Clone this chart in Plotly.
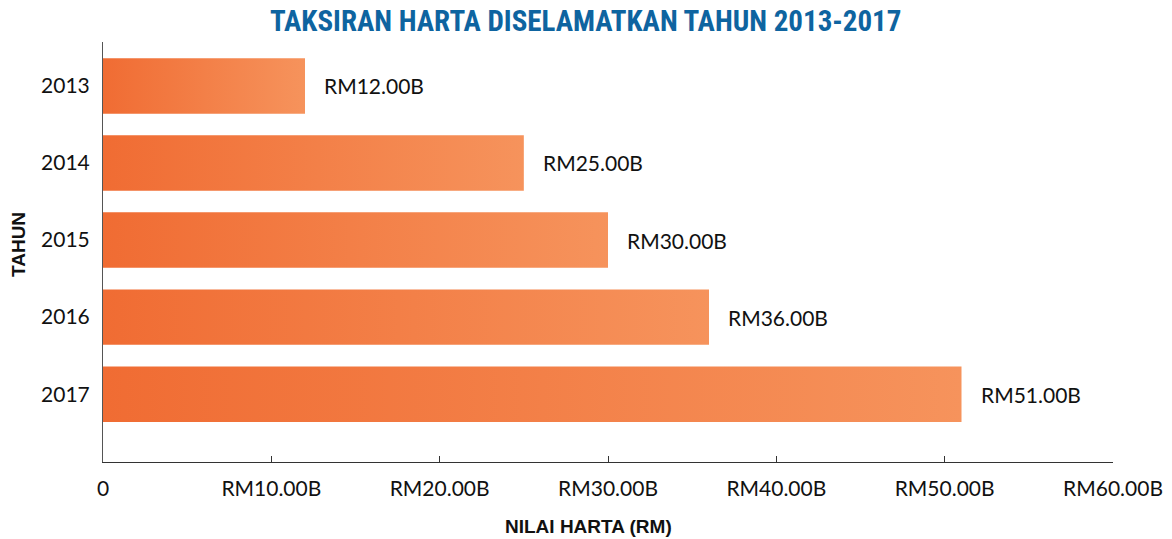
import plotly.graph_objects as go

years = ["2013", "2014", "2015", "2016", "2017"]
values = [12, 25, 30, 36, 51]
value_labels = ["RM12.00B", "RM25.00B", "RM30.00B", "RM36.00B", "RM51.00B"]
x_tickvals = [0, 10, 20, 30, 40, 50, 60]
x_ticktext = ["0", "RM10.00B", "RM20.00B", "RM30.00B", "RM40.00B", "RM50.00B", "RM60.00B"]

BAR_W = 0.72
fig = go.Figure()
for i, (yr, v) in enumerate(zip(years, values)):
    y0, y1 = i - BAR_W / 2, i + BAR_W / 2
    fig.add_trace(go.Scatter(
        x=[0, v, v, 0, 0], y=[y0, y0, y1, y1, y0],
        mode="lines", line=dict(width=0), fill="toself",
        fillgradient=dict(type="horizontal",
                          colorscale=[[0, "#F06C33"], [1, "#F6935C"]]),
        name=yr, showlegend=False, hoverinfo="skip"))

for i, (v, lab) in enumerate(zip(values, value_labels)):
    fig.add_annotation(x=v, y=i, text=lab, showarrow=False, xanchor="left",
                       xshift=17, font=dict(size=21, color="#111111"))

fig.add_annotation(text="<b>TAKSIRAN HARTA DISELAMATKAN TAHUN 2013-2017</b>",
                   xref="paper", yref="paper", x=0.478, y=1.0, yshift=21,
                   xanchor="center", yanchor="middle", showarrow=False,
                   font=dict(family="Liberation Sans Narrow, Roboto Condensed, Arial Narrow, sans-serif",
                             size=29, color="#0E64A0"))
fig.add_annotation(text="<b>NILAI HARTA (RM)</b>", xref="paper", yref="paper",
                   x=0.481, y=0, yshift=-64, xanchor="center", yanchor="middle",
                   showarrow=False,
                   font=dict(family="Liberation Sans Narrow, sans-serif", size=19, color="#111111"))
fig.add_annotation(text="<b>TAHUN</b>", xref="paper", yref="paper",
                   x=0, xshift=-85, y=0.5, yshift=7, textangle=-90,
                   xanchor="center", yanchor="middle", showarrow=False,
                   font=dict(family="Liberation Sans Narrow, sans-serif", size=19, color="#111111"))

fig.update_xaxes(range=[0, 60], tickvals=x_tickvals, ticktext=x_ticktext,
                 showgrid=False, zeroline=False, showline=True, linecolor="#333333",
                 linewidth=1, ticks="inside", ticklen=6, tickcolor="#333333",
                 tickfont=dict(size=21, color="#111111"), ticklabelstandoff=8,
                 automargin=False)
fig.update_yaxes(range=[4.88, -0.57], tickvals=list(range(len(years))), ticktext=years,
                 showgrid=False, zeroline=False, showline=True, linecolor="#555555",
                 linewidth=1, ticks="", tickfont=dict(size=21, color="#111111"),
                 ticklabelstandoff=8, automargin=False)

fig.update_layout(width=1172, height=539, margin=dict(l=103, r=59, t=42, b=77, autoexpand=False),
                  plot_bgcolor="white", paper_bgcolor="white",
                  font=dict(family="Lato, sans-serif"))
fig.write_html("out.html", config={"displayModeBar": False},
               post_script="document.body.style.margin='0';")
